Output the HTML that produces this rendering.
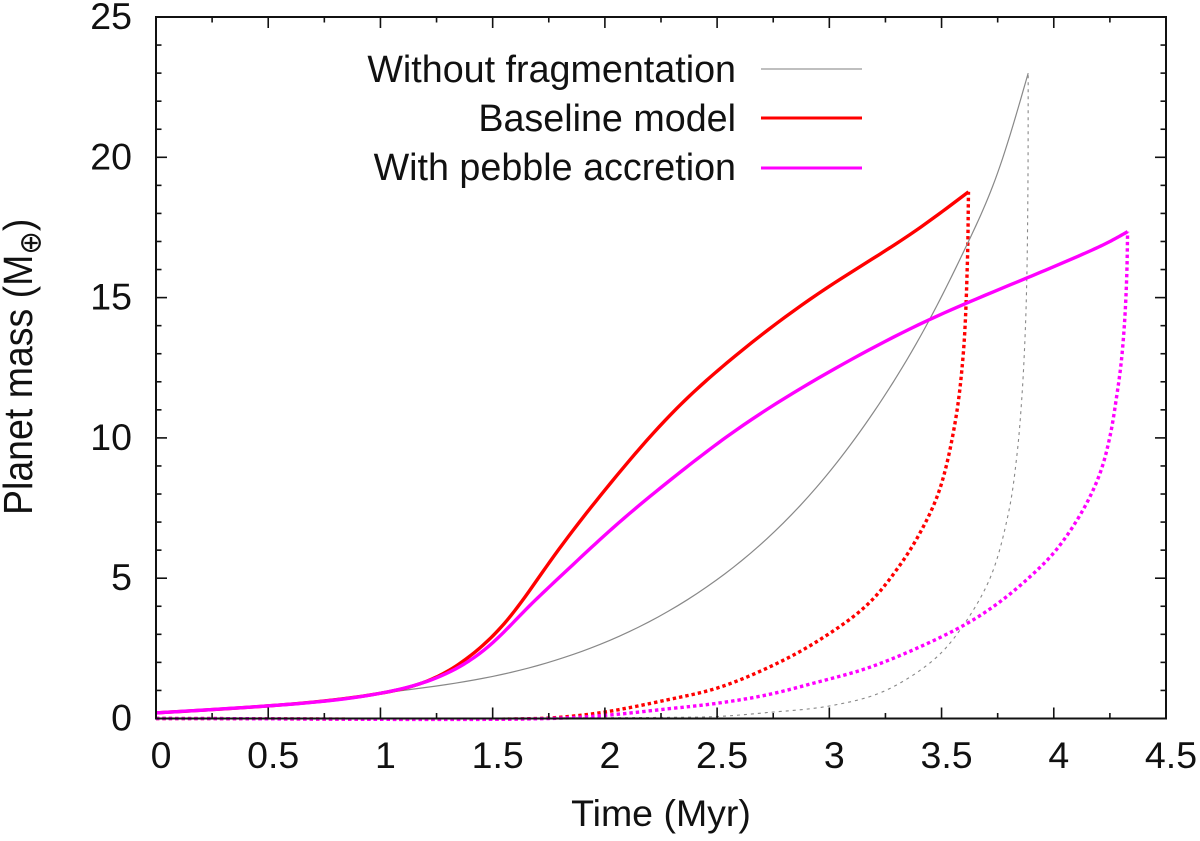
<!DOCTYPE html>
<html>
<head>
<meta charset="utf-8">
<title>Planet mass vs time</title>
<style>
html,body{margin:0;padding:0;background:#fff;width:1200px;height:841px;overflow:hidden}
svg{display:block;font-family:"Liberation Sans",sans-serif;fill:#000}
text{font-size:37.5px;fill:#111}
</style>
</head>
<body>
<svg id="chart" width="1200" height="841" viewBox="0 0 1200 841" xmlns="http://www.w3.org/2000/svg">
  <rect x="0" y="0" width="1200" height="841" fill="#fff"/>
  <g id="series"></g>
  <g id="axes"></g>
  <text x="661" y="826" text-anchor="middle">Time (Myr)</text>
  <text transform="translate(32,515) rotate(-90) scale(1,1.08)" text-anchor="start">Planet mass (M<tspan dy="8" style="font-size:28px;font-family:'DejaVu Sans',sans-serif">⊕</tspan><tspan dy="-8">)</tspan></text>
  <g>
    <text x="736" y="82" text-anchor="end" style="font-size:37.7px">Without fragmentation</text>
    <line x1="761" x2="862" y1="69" y2="69" stroke="#999" stroke-width="1.2"/>
    <text x="736" y="131" text-anchor="end" style="font-size:37.7px">Baseline model</text>
    <line x1="761" x2="862" y1="118" y2="118" stroke="#f00" stroke-width="3"/>
    <text x="736" y="180" text-anchor="end" style="font-size:37.7px">With pebble accretion</text>
    <line x1="761" x2="862" y1="168" y2="168" stroke="#f0f" stroke-width="3"/>
  </g>
</svg>
<script>
var xTickValues = [0, 0.5, 1, 1.5, 2, 2.5, 3, 3.5, 4, 4.5];
var xTickLabels = ["0", "0.5", "1", "1.5", "2", "2.5", "3", "3.5", "4", "4.5"];
var xMinorTicks = [0.25, 0.75, 1.25, 1.75, 2.25, 2.75, 3.25, 3.75, 4.25];
var yTickValues = [0, 5, 10, 15, 20, 25];
var yTickLabels = ["0", "5", "10", "15", "20", "25"];
var yMinorTicks = [1, 2, 3, 4, 6, 7, 8, 9, 11, 12, 13, 14, 16, 17, 18, 19, 21, 22, 23, 24];

var grayTime = [0, 0.5, 1, 1.5, 1.978, 2.498, 2.944, 3.2, 3.45, 3.62, 3.75, 3.886];
var grayMass = [0.2, 0.45, 0.9, 1.5, 2.64, 4.94, 8.25, 10.95, 14.27, 17, 19.45, 23];
var redTime = [0, 0.5, 1, 1.25, 1.42, 1.564, 1.756, 2, 2.32, 2.543, 2.988, 3.389, 3.62];
var redMass = [0.2, 0.45, 0.9, 1.48, 2.36, 3.5, 5.6, 8.14, 11.05, 12.67, 15.34, 17.41, 18.77];
var magentaTime = [0, 0.5, 1, 1.25, 1.5, 1.65, 1.8, 2.037, 2.32, 2.543, 2.988, 3.434, 3.88, 4.13, 4.25, 4.329];
var magentaMass = [0.2, 0.45, 0.9, 1.45, 2.7, 3.9, 5.05, 6.8, 8.68, 10.04, 12.3, 14.17, 15.7, 16.55, 17, 17.35];

var grayDotTime = [0, 2.275, 2.498, 2.721, 3.003, 3.24, 3.463, 3.582, 3.716, 3.798, 3.835, 3.857, 3.872, 3.88, 3.885, 3.886];
var grayDotMass = [0, 0.04, 0.07, 0.21, 0.45, 0.96, 2.08, 3.15, 5, 7.32, 9.33, 11.35, 13.6, 15.75, 19.2, 23];
var redDotTime = [0, 1.7, 1.85, 2.008, 2.275, 2.498, 2.721, 2.944, 3.167, 3.315, 3.419, 3.493, 3.56, 3.597, 3.615, 3.62];
var redDotMass = [0, 0, 0.08, 0.24, 0.66, 1.08, 1.79, 2.74, 4.04, 5.47, 6.84, 8.2, 10.53, 13.02, 16.22, 18.77];
var magentaDotTime = [0, 1.75, 2.02, 2.275, 2.498, 2.721, 2.944, 3.167, 3.389, 3.612, 3.75, 3.887, 4.01, 4.13, 4.206, 4.25, 4.28, 4.3, 4.315, 4.325, 4.329];
var magentaDotMass = [0, 0, 0.125, 0.34, 0.54, 0.84, 1.29, 1.79, 2.5, 3.38, 4.1, 5, 6, 7.43, 8.74, 10.04, 11.47, 12.66, 14.08, 15.75, 17.35];

var plotLeft = 156, plotRight = 1166, plotTop = 17, plotBottom = 718.5;
function xScale(v) { return plotLeft + (v / 4.5) * (plotRight - plotLeft); }
function yScale(v) { return plotBottom - (v / 25) * (plotBottom - plotTop); }

var NS = "http://www.w3.org/2000/svg";

function smoothPath(ts, ms) {
  var pts = ts.map(function (t, i) { return [xScale(t), yScale(ms[i])]; });
  var n = pts.length, p = "M" + pts[0][0].toFixed(2) + " " + pts[0][1].toFixed(2);
  function dist(a, b) { return Math.hypot(a[0] - b[0], a[1] - b[1]); }
  for (var i = 0; i < n - 1; i++) {
    var p0 = pts[Math.max(i - 1, 0)], p1 = pts[i], p2 = pts[i + 1], p3 = pts[Math.min(i + 2, n - 1)];
    var d1 = dist(p0, p1), d2 = dist(p1, p2), d3 = dist(p2, p3);
    var r1 = Math.sqrt(d1), r2 = Math.sqrt(d2), r3 = Math.sqrt(d3);
    var b1 = [p1[0], p1[1]], b2 = [p2[0], p2[1]];
    for (var k = 0; k < 2; k++) {
      if (d1 > 0) {
        b1[k] = (d1 * p2[k] - d2 * p0[k] + (2 * d1 + 3 * r1 * r2 + d2) * p1[k]) / (3 * r1 * (r1 + r2));
      } else {
        b1[k] = p1[k] + (p2[k] - p1[k]) / 3;
      }
      if (d3 > 0) {
        b2[k] = (d3 * p1[k] - d2 * p3[k] + (2 * d3 + 3 * r3 * r2 + d2) * p2[k]) / (3 * r3 * (r3 + r2));
      } else {
        b2[k] = p2[k] - (p2[k] - p1[k]) / 3;
      }
    }
    p += "C" + b1[0].toFixed(2) + " " + b1[1].toFixed(2) + " " + b2[0].toFixed(2) + " " + b2[1].toFixed(2) + " " + p2[0].toFixed(2) + " " + p2[1].toFixed(2);
  }
  return p;
}

function splinePath(ts, ms) {
  var n = ts.length, h = [], i;
  for (i = 0; i < n - 1; i++) { h.push(ts[i + 1] - ts[i]); }
  var c = new Array(n).fill(0), dp = new Array(n).fill(0), rp = new Array(n).fill(0);
  for (i = 1; i < n - 1; i++) {
    var a = h[i - 1], b = 2 * (h[i - 1] + h[i]), up = h[i];
    var r = 6 * ((ms[i + 1] - ms[i]) / h[i] - (ms[i] - ms[i - 1]) / h[i - 1]);
    var m = b - a * dp[i - 1];
    dp[i] = up / m;
    rp[i] = (r - a * rp[i - 1]) / m;
  }
  for (i = n - 2; i > 0; i--) { c[i] = rp[i] - dp[i] * c[i + 1]; }
  var p = "";
  for (i = 0; i < n - 1; i++) {
    for (var j = 0; j <= 12; j++) {
      if (i > 0 && j === 0) { continue; }
      var u = j / 12, A = 1 - u, t = ts[i] + u * h[i];
      var v = A * ms[i] + u * ms[i + 1] + ((A * A * A - A) * c[i] + (u * u * u - u) * c[i + 1]) * h[i] * h[i] / 6;
      p += (p ? "L" : "M") + xScale(t).toFixed(2) + " " + yScale(v).toFixed(2);
    }
  }
  return p;
}

var seriesGroup = document.getElementById("series");
var axesGroup = document.getElementById("axes");

function drawCurve(name, pathData, color, width, dash) {
  var el = document.createElementNS(NS, "path");
  
  
  el.setAttribute("d", pathData);
  el.setAttribute("fill", "none");
  el.setAttribute("stroke", color);
  el.setAttribute("stroke-width", width);
  el.setAttribute("stroke-linejoin", "round");
  if (dash) { el.setAttribute("stroke-dasharray", dash); }
  seriesGroup.appendChild(el);
}

drawCurve("without-fragmentation-dashed-curve", smoothPath(grayDotTime, grayDotMass), "#888", 1.1, "3 4");
drawCurve("baseline-dotted-curve", smoothPath(redDotTime, redDotMass), "#f00", 3.4, "3.4 3");
drawCurve("pebble-dotted-curve", smoothPath(magentaDotTime, magentaDotMass), "#f0f", 3.4, "3.4 3");
drawCurve("without-fragmentation-curve", splinePath(grayTime, grayMass), "#888", 1.2, "");
drawCurve("baseline-curve", splinePath(redTime, redMass), "#f00", 3.4, "");
drawCurve("pebble-curve", splinePath(magentaTime, magentaMass), "#f0f", 3.4, "");

function tickLine(name, x1, y1, x2, y2, w) {
  var el = document.createElementNS(NS, "line");
  
  
  el.setAttribute("x1", x1);
  el.setAttribute("y1", y1);
  el.setAttribute("x2", x2);
  el.setAttribute("y2", y2);
  el.setAttribute("stroke", "#111");
  el.setAttribute("stroke-width", w);
  axesGroup.appendChild(el);
}

function tickText(name, x, y, anchor, str) {
  var el = document.createElementNS(NS, "text");
  
  
  el.setAttribute("x", x);
  el.setAttribute("y", y);
  el.setAttribute("text-anchor", anchor);
  el.textContent = str;
  axesGroup.appendChild(el);
}

xTickValues.forEach(function (v, i) {
  var x = xScale(v);
  tickLine("x-major-tick", x, plotBottom, x, plotBottom - 11, 1.6);
  tickLine("x-major-tick-top", x, plotTop, x, plotTop + 11, 1.6);
  tickText("x-tick-label", x + 5, 768, "middle", xTickLabels[i]);
});
xMinorTicks.forEach(function (v) {
  var x = xScale(v);
  tickLine("x-minor-tick", x, plotBottom, x, plotBottom - 5.5, 1.6);
  tickLine("x-minor-tick-top", x, plotTop, x, plotTop + 5.5, 1.6);
});
yTickValues.forEach(function (v, i) {
  var y = yScale(v);
  tickLine("y-major-tick", plotLeft, y, plotLeft + 11, y, 1.6);
  tickLine("y-major-tick-right", plotRight, y, plotRight - 11, y, 1.6);
  tickText("y-tick-label", 132, y + 12, "end", yTickLabels[i]);
});
yMinorTicks.forEach(function (v) {
  var y = yScale(v);
  tickLine("y-minor-tick", plotLeft, y, plotLeft + 5.5, y, 1.6);
  tickLine("y-minor-tick-right", plotRight, y, plotRight - 5.5, y, 1.6);
});

var frame = document.createElementNS(NS, "rect");


frame.setAttribute("x", plotLeft);
frame.setAttribute("y", plotTop);
frame.setAttribute("width", plotRight - plotLeft);
frame.setAttribute("height", plotBottom - plotTop);
frame.setAttribute("fill", "none");
frame.setAttribute("stroke", "#111");
frame.setAttribute("stroke-width", 2);
axesGroup.appendChild(frame);
</script>
</body>
</html>
